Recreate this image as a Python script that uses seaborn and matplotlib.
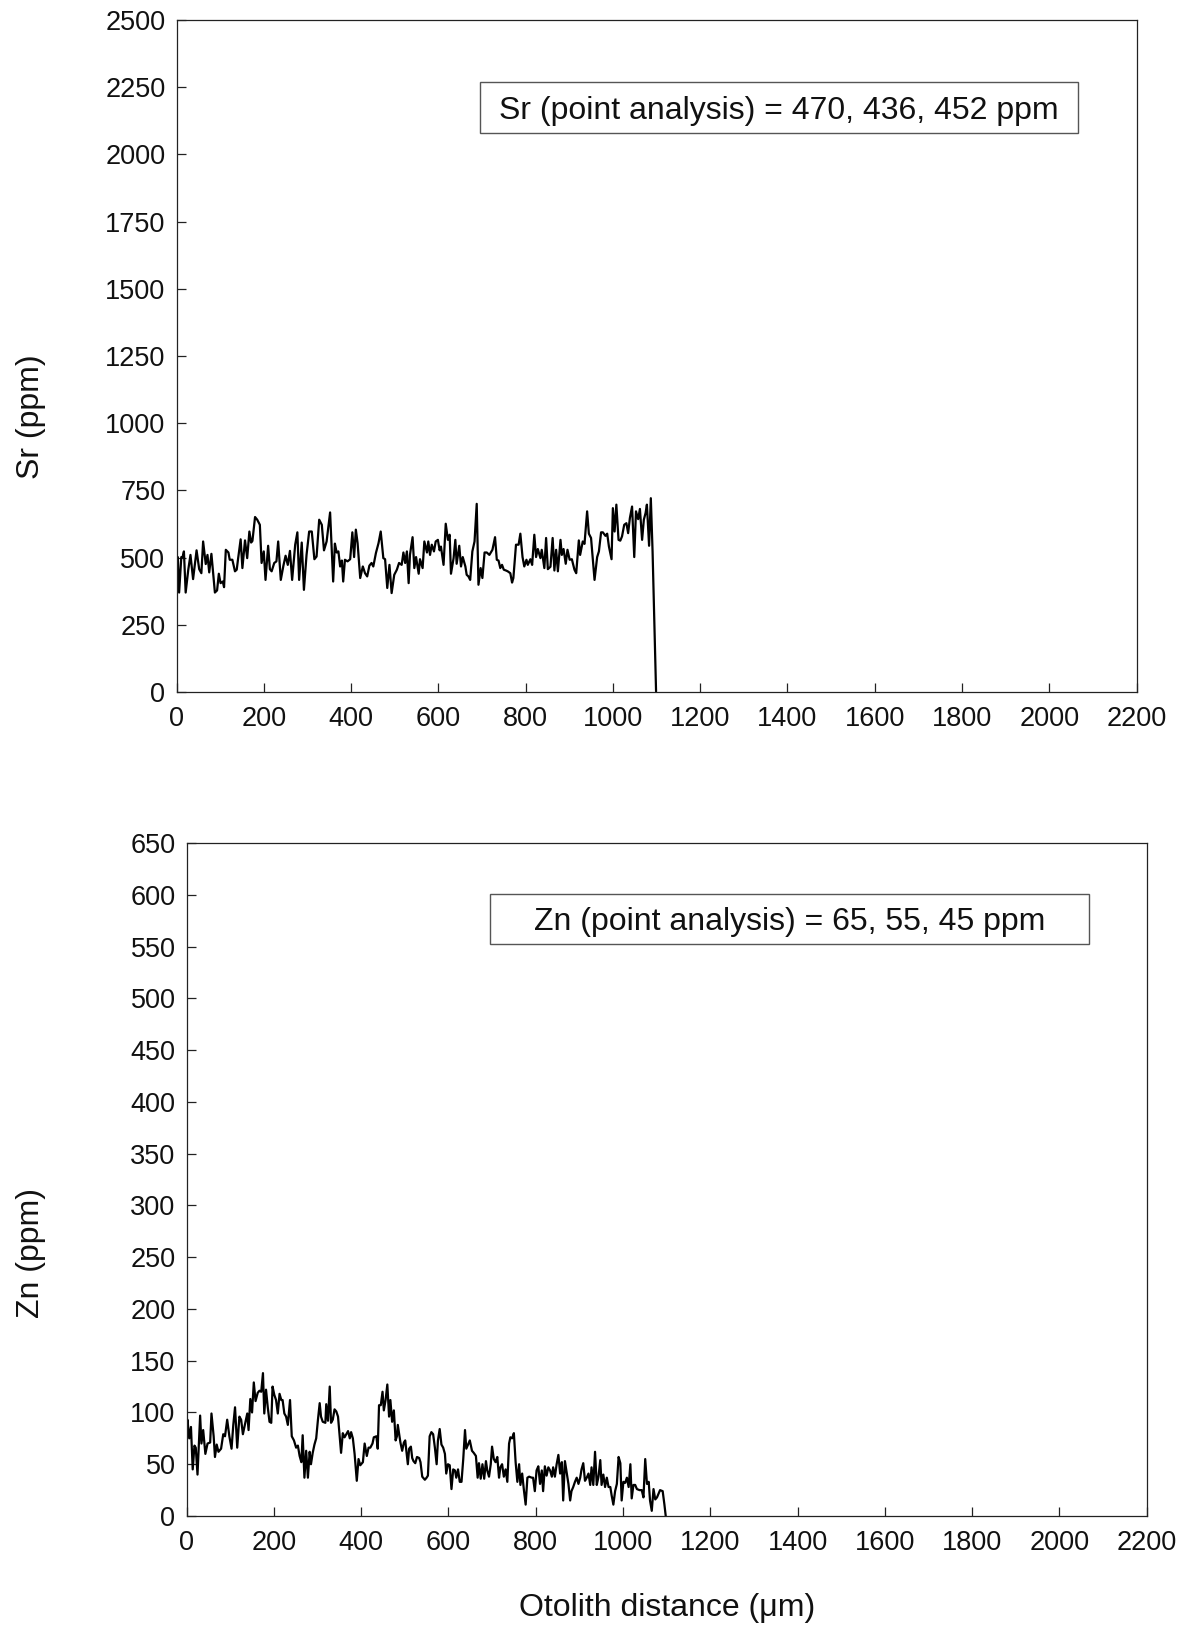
import numpy as np
import pandas as pd
import matplotlib
matplotlib.use("Agg")
import matplotlib.pyplot as plt
from matplotlib.patches import Rectangle
import seaborn as sns

# Sr laser-ablation profile across the otolith (distance in µm, Sr in ppm)
sr_distance = [
    0, 3, 6, 11, 14, 17, 21, 27, 32, 38, 46, 52, 57, 61, 67, 71, 75, 80, 88, 93,
    97, 101, 106, 109, 113, 119, 122, 128, 134, 138, 141, 147, 151, 157, 162, 167,
    171, 174, 180, 185, 191, 195, 200, 204, 210, 214, 218, 224, 229, 233, 239, 245,
    250, 255, 260, 265, 272, 277, 281, 287, 292, 298, 304, 310, 316, 321, 327, 333,
    338, 344, 352, 359, 363, 367, 371, 375, 379, 382, 386, 392, 398, 403, 407, 411,
    415, 421, 427, 432, 437, 442, 447, 451, 457, 463, 468, 474, 478, 483, 488, 493,
    499, 505, 510, 516, 520, 524, 528, 532, 535, 541, 545, 549, 555, 558, 564, 568,
    574, 577, 581, 585, 590, 594, 599, 603, 606, 612, 617, 622, 626, 629, 635, 639,
    642, 648, 652, 656, 662, 665, 669, 673, 678, 683, 688, 692, 697, 701, 706, 711,
    717, 724, 730, 734, 738, 742, 746, 750, 755, 759, 765, 769, 772, 778, 784, 788,
    793, 797, 802, 805, 811, 815, 820, 824, 828, 834, 837, 843, 847, 851, 857, 862,
    866, 870, 874, 880, 883, 887, 892, 896, 901, 906, 912, 916, 922, 925, 931, 935,
    941, 945, 950, 958, 964, 968, 973, 977, 983, 987, 991, 997, 1000, 1004, 1008,
    1013, 1017, 1021, 1026, 1031, 1035, 1039, 1044, 1049, 1053, 1058, 1062, 1067,
    1071, 1075, 1078, 1083, 1087, 1091, 1095, 1099,
]
sr_ppm = [
    455, 502, 370, 502, 502, 523, 370, 455, 510, 420, 527, 457, 442, 560, 476, 510,
    445, 514, 370, 378, 440, 405, 411, 390, 529, 519, 492, 492, 449, 455, 494, 568,
    461, 564, 498, 597, 556, 562, 651, 641, 622, 480, 523, 417, 544, 457, 449, 480,
    486, 560, 417, 470, 507, 473, 525, 417, 548, 594, 417, 556, 380, 510, 597, 597,
    494, 504, 641, 622, 527, 560, 668, 411, 552, 519, 523, 467, 489, 411, 492, 486,
    494, 594, 502, 604, 554, 424, 467, 442, 430, 470, 480, 467, 517, 554, 597, 498,
    494, 387, 473, 368, 436, 455, 480, 473, 519, 480, 523, 405, 510, 576, 461, 502,
    440, 494, 461, 560, 519, 560, 510, 548, 523, 560, 566, 527, 541, 473, 626, 566,
    585, 440, 498, 566, 477, 544, 467, 502, 467, 436, 430, 417, 523, 560, 700, 399,
    461, 424, 519, 519, 510, 529, 576, 492, 489, 461, 473, 455, 452, 449, 442, 407,
    424, 548, 548, 589, 502, 467, 492, 473, 494, 473, 585, 502, 532, 498, 529, 461,
    573, 457, 466, 573, 452, 529, 449, 566, 510, 532, 477, 529, 492, 494, 455, 442,
    564, 510, 560, 551, 672, 589, 573, 417, 502, 523, 594, 594, 581, 589, 541, 494,
    684, 597, 697, 566, 563, 579, 622, 628, 591, 647, 690, 502, 672, 643, 681, 566,
    641, 666, 697, 544, 721, 523, 269, 2,
]

# Zn laser-ablation profile across the otolith (distance in µm, Zn in ppm)
zn_distance = [
    0, 2, 6, 10, 14, 18, 21, 25, 31, 34, 38, 43, 48, 54, 57, 62, 65, 69, 73, 79,
    84, 88, 93, 98, 103, 107, 111, 116, 121, 125, 129, 134, 139, 142, 146, 150,
    154, 158, 163, 167, 171, 175, 178, 182, 186, 190, 194, 197, 201, 205, 209, 213,
    217, 220, 224, 228, 232, 237, 241, 246, 251, 255, 259, 263, 266, 270, 274, 278,
    282, 285, 289, 293, 297, 301, 305, 308, 312, 318, 320, 324, 328, 331, 335, 339,
    343, 347, 351, 354, 358, 362, 366, 370, 374, 377, 381, 385, 390, 394, 398, 404,
    408, 413, 417, 421, 426, 429, 435, 438, 441, 445, 449, 452, 456, 460, 464, 467,
    471, 475, 479, 482, 484, 490, 494, 498, 501, 507, 510, 514, 517, 520, 524, 528,
    533, 536, 540, 546, 550, 553, 557, 561, 565, 569, 573, 576, 580, 584, 588, 592,
    595, 599, 603, 607, 611, 615, 618, 622, 626, 630, 634, 638, 641, 645, 649, 654,
    658, 663, 667, 670, 674, 678, 682, 686, 689, 693, 697, 700, 704, 708, 712, 716,
    719, 723, 727, 731, 735, 739, 742, 746, 750, 754, 758, 762, 765, 769, 773, 777,
    781, 785, 791, 794, 798, 802, 806, 810, 814, 817, 821, 825, 829, 833, 837, 840,
    844, 848, 852, 856, 860, 863, 867, 871, 875, 879, 882, 886, 890, 894, 898, 902,
    905, 909, 913, 917, 921, 925, 928, 932, 936, 940, 944, 948, 951, 955, 959, 963,
    967, 971, 974, 978, 982, 986, 990, 994, 997, 1001, 1005, 1009, 1013, 1017, 1020,
    1024, 1028, 1032, 1038, 1043, 1047, 1051, 1055, 1059, 1062, 1066, 1070, 1074,
    1078, 1082, 1085, 1091, 1095, 1098,
]
zn_ppm = [
    83, 93, 75, 86, 45, 68, 66, 40, 97, 70, 83, 60, 70, 71, 99, 77, 57, 69, 62, 65,
    79, 77, 93, 77, 65, 88, 105, 66, 96, 93, 79, 89, 99, 83, 113, 100, 129, 111,
    119, 121, 120, 138, 99, 122, 105, 91, 90, 125, 117, 112, 99, 118, 112, 112, 99,
    96, 88, 112, 77, 73, 66, 68, 58, 52, 78, 37, 63, 37, 62, 50, 61, 69, 75, 93,
    109, 96, 91, 90, 108, 92, 125, 90, 93, 103, 101, 96, 76, 61, 80, 76, 79, 82, 75,
    81, 75, 60, 34, 55, 49, 52, 70, 58, 66, 66, 70, 76, 77, 65, 107, 107, 120, 102,
    112, 127, 96, 112, 91, 102, 73, 77, 88, 71, 63, 71, 73, 50, 65, 67, 56, 53, 51,
    57, 56, 52, 38, 35, 37, 39, 77, 81, 79, 66, 50, 73, 84, 69, 66, 60, 41, 50, 49,
    26, 45, 44, 37, 45, 33, 33, 55, 83, 65, 69, 73, 63, 61, 58, 37, 51, 36, 50, 36,
    53, 44, 38, 50, 67, 55, 52, 57, 37, 47, 50, 38, 45, 33, 70, 76, 75, 80, 52, 33,
    50, 30, 41, 25, 11, 37, 38, 37, 37, 24, 44, 48, 31, 44, 24, 48, 39, 47, 44, 38,
    47, 38, 50, 59, 41, 52, 15, 53, 42, 31, 15, 24, 28, 33, 37, 31, 37, 45, 51, 34,
    37, 41, 30, 47, 30, 62, 30, 38, 54, 30, 40, 28, 37, 28, 28, 20, 11, 24, 31, 57,
    51, 15, 33, 32, 37, 28, 50, 17, 30, 30, 26, 25, 25, 18, 55, 31, 33, 15, 5, 26,
    16, 18, 22, 25, 24, 11, 0,
]

sr_annotation = "Sr (point analysis) = 470, 436, 452 ppm"
zn_annotation = "Zn (point analysis) = 65, 55, 45 ppm"

sr_yticks = [0, 250, 500, 750, 1000, 1250, 1500, 1750, 2000, 2250, 2500]
zn_yticks = list(range(0, 651, 50))
x_ticks = list(range(0, 2201, 200))

sr_df = pd.DataFrame({"distance": sr_distance, "ppm": sr_ppm})
zn_df = pd.DataFrame({"distance": zn_distance, "ppm": zn_ppm})

sns.set_theme(style="ticks")
plt.rcParams["font.family"] = ["Liberation Sans", "DejaVu Sans"]

W, H = 1179, 1626
fig = plt.figure(figsize=(W / 100, H / 100), dpi=100)

def px_axes(left, top, right, bottom):
    return fig.add_axes([left / W, 1 - bottom / H, (right - left) / W, (bottom - top) / H])

ax_sr = px_axes(176.5, 20, 1136.5, 692)
ax_zn = px_axes(186.6, 843, 1146.6, 1516)

tick_fs = 19.5
label_fs = 23

for ax, df, yticks, ymax in [
    (ax_sr, sr_df, sr_yticks, 2500),
    (ax_zn, zn_df, zn_yticks, 650),
]:
    sns.lineplot(data=df, x="distance", y="ppm", ax=ax, color="black",
                 linewidth=1.6, estimator=None, sort=False)
    ax.set_xlim(0, 2200)
    ax.set_ylim(0, ymax)
    ax.set_xticks(x_ticks)
    ax.set_yticks(yticks)
    ax.set_xlabel("")
    ax.set_ylabel("")
    for s in ax.spines.values():
        s.set_visible(True)
        s.set_color("#222222")
        s.set_linewidth(0.9)
    ax.tick_params(axis="both", direction="in", length=6.5, width=0.9,
                   color="#222222", labelsize=tick_fs, labelcolor="#111111")
    ax.tick_params(axis="y", pad=8)
    ax.tick_params(axis="x", pad=10)

# Point-analysis boxes
def note_box(left, top, right, bottom, text, fs, dy):
    fig.patches.append(Rectangle((left / W, 1 - bottom / H), (right - left) / W,
                                 (bottom - top) / H, transform=fig.transFigure,
                                 facecolor="white", edgecolor="#555555", linewidth=1.0))
    fig.text((left + right) / 2 / W, 1 - ((top + bottom) / 2 + dy) / H, text,
             ha="center", va="center", fontsize=fs, color="#111111")

note_box(480, 82, 1078, 133, sr_annotation, 23, 4)
note_box(490, 894, 1089, 944, zn_annotation, 23, 3)

# Axis titles
fig.text(31 / W, 1 - 417 / H, "Sr (ppm)", rotation=90, ha="center", va="center",
         fontsize=label_fs, color="#111111")
fig.text(31 / W, 1 - 1253 / H, "Zn (ppm)", rotation=90, ha="center", va="center",
         fontsize=label_fs, color="#111111")
fig.text(667 / W, 1 - 1608 / H, "Otolith distance (μm)", ha="center", va="center",
         fontsize=label_fs, color="#111111")

fig.savefig("out.png", dpi=100)
